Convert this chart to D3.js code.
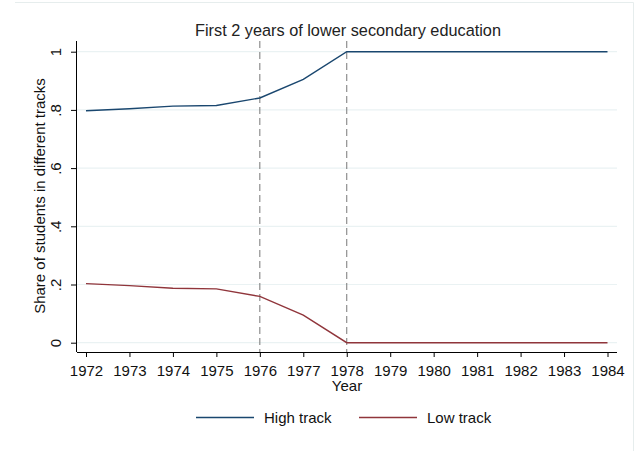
<!DOCTYPE html>
<html>
<head>
<meta charset="utf-8">
<script src="https://cdn.jsdelivr.net/npm/d3@7"></script>
<style>
body { margin: 0; background: #fff; }
svg { display: block; font-family: "Liberation Sans", Arial, sans-serif; }
</style>
</head>
<body>
<svg id="chart" width="637" height="451"></svg>
<script>
const years = [1972,1973,1974,1975,1976,1977,1978,1979,1980,1981,1982,1983,1984];
const highTrack = [0.797,0.804,0.813,0.815,0.841,0.905,1,1,1,1,1,1,1];
const lowTrack  = [0.203,0.196,0.187,0.185,0.159,0.095,0,0,0,0,0,0,0];
const yTicks = [0,0.2,0.4,0.6,0.8,1];
const yTickLabels = ["0",".2",".4",".6",".8","1"];
const refYears = [1976,1978];
const seriesNames = ["High track","Low track"];
const seriesColors = ["#1a476f","#90353b"];

const svg = d3.select("#chart");
const pLeft = 77, pRight = 617, pTop = 41, pBottom = 352;
const FS = "15px";

const x = d3.scaleLinear().domain([1972,1984]).range([86,607.5]);
const y = d3.scaleLinear().domain([0,1]).range([342.7,51.7]);

// outer frame (faint)
svg.append("path").attr("d", `M15,2.5H633.5V451`).attr("fill","none").attr("stroke","#e6eded").attr("stroke-width",1);

// gridlines
svg.append("g").selectAll("line").data(yTicks).join("line")
  .attr("x1", pLeft).attr("x2", pRight)
  .attr("y1", d=>y(d)).attr("y2", d=>y(d))
  .attr("stroke","#eaf2f3").attr("stroke-width",1.2);

// reference dashed lines
svg.append("g").selectAll("line").data(refYears).join("line")
  .attr("x1", d=>x(d)).attr("x2", d=>x(d))
  .attr("y1", pTop).attr("y2", pBottom)
  .attr("stroke","#777").attr("stroke-width",1).attr("stroke-dasharray","7,4");

// lines
const line = d3.line().x((d,i)=>x(years[i])).y(d=>y(d));
[highTrack, lowTrack].forEach((s,k)=>{
  svg.append("path").datum(s).attr("d", line)
    .attr("fill","none").attr("stroke",seriesColors[k]).attr("stroke-width",1.4);
});

// x axis
const xAxis = d3.axisBottom(x).tickValues(years).tickFormat(d3.format("d")).tickSize(5).tickPadding(4);
const gx = svg.append("g").attr("transform",`translate(0,${pBottom})`).call(xAxis);
gx.select(".domain").attr("d",`M${pLeft},0.5H${pRight}`).attr("stroke","#000");
gx.selectAll(".tick line").attr("stroke","#000");
gx.selectAll("text").attr("font-size",FS).attr("fill","#111")
  .attr("font-family","Liberation Sans, Arial, sans-serif").attr("y",23.7).attr("dy","0");

// y axis
const yAxis = d3.axisLeft(y).tickValues(yTicks).tickFormat((d,i)=>yTickLabels[i]).tickSize(6).tickPadding(4);
const gy = svg.append("g").attr("transform",`translate(${pLeft},0)`).call(yAxis);
gy.select(".domain").attr("d",`M-0.5,${pTop}V${pBottom}`).attr("stroke","#000");
gy.selectAll(".tick line").attr("stroke","#000");
gy.selectAll("text")
  .attr("font-size",FS).attr("fill","#111").attr("font-family","Liberation Sans, Arial, sans-serif")
  .attr("transform","rotate(-90)").attr("x",0).attr("y",-16).attr("dy","0").attr("text-anchor","middle");

// title
svg.append("text").attr("x",348).attr("y",35.5).attr("text-anchor","middle")
  .attr("font-size","16.3px").attr("fill","#222").text("First 2 years of lower secondary education");

// axis titles
svg.append("text").attr("x",347).attr("y",391).attr("text-anchor","middle")
  .attr("font-size",FS).attr("fill","#111").text("Year");
svg.append("text").attr("transform","translate(45,196) rotate(-90)").attr("text-anchor","middle")
  .attr("font-size",FS).attr("fill","#111").text("Share of students in different tracks");

// legend
const legX = [196, 359];
seriesNames.forEach((n,k)=>{
  svg.append("line").attr("x1",legX[k]).attr("x2",legX[k]+58).attr("y1",417.5).attr("y2",417.5)
    .attr("stroke",seriesColors[k]).attr("stroke-width",1.4);
  svg.append("text").attr("x",legX[k]+68).attr("y",423).attr("font-size",FS).attr("fill","#111").text(n);
});
</script>
</body>
</html>
